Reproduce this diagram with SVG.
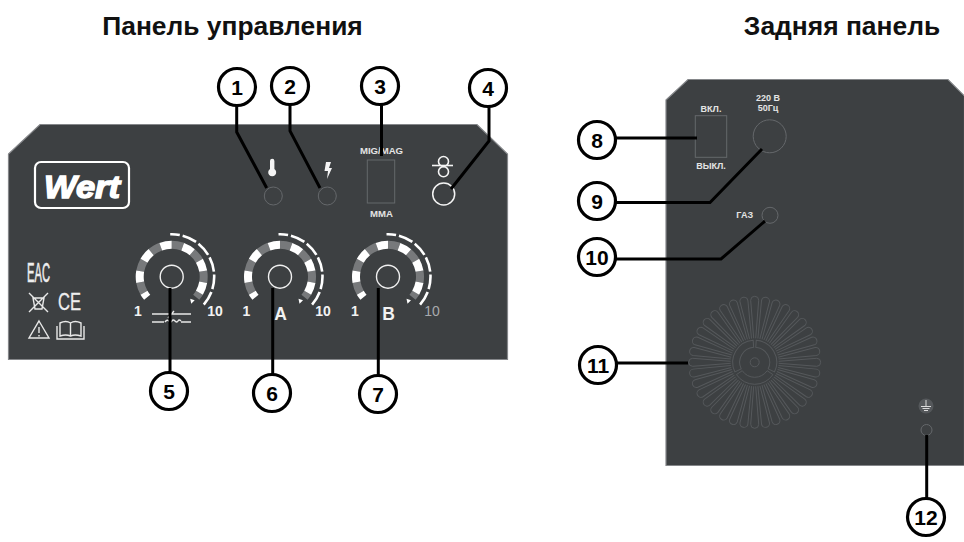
<svg xmlns="http://www.w3.org/2000/svg" xmlns:xlink="http://www.w3.org/1999/xlink" width="964" height="542" viewBox="0 0 964 542">
<style>
text{font-family:"Liberation Sans",Arial,sans-serif}
.title{font-size:26.400px;font-weight:700;fill:#111;text-anchor:middle}
.panel{fill:#3d4042;stroke:#85878a;stroke-width:1.2}
.num circle{fill:#fff;stroke:#000;stroke-width:3.2}
.num text{font-size:21px;font-weight:700;fill:#000;text-anchor:middle}
.conn{fill:none;stroke:#000;stroke-width:3;stroke-linejoin:miter}
.lbl{font-weight:700;fill:#e4e4e4;text-anchor:middle}
.thin{fill:none;stroke:#65686b;stroke-width:1}
.wl{fill:none;stroke:#e8e8e8;stroke-width:1.4}
.wh{fill:none;stroke:#f4f4f4;stroke-width:1.6}
.fan{fill:none;stroke:#55585b;stroke-width:1}
.sc{font-size:14px;font-weight:700;fill:#f2f2f2;text-anchor:middle}
</style>
<defs>
<g id="gauge">
<circle r="32" fill="none" stroke="#77797b" stroke-width="8" pathLength="360" stroke-dasharray="20 20 20 20 20 20 20 20 20 20 20 20 10 400" transform="rotate(150)"/>
<circle r="32" fill="none" stroke="#fff" stroke-width="8" pathLength="360" stroke-dasharray="10 20 20 20 20 20 20 20 20 20 20 20 20 400" transform="rotate(140)"/>
<circle r="42.5" fill="none" stroke="#fff" stroke-width="2.6" pathLength="360" stroke-dasharray="13 4 20 4 20 4 20 4 20 4 20 300" transform="rotate(268)"/>
<circle r="11.5" fill="none" stroke="#f0f0f0" stroke-width="1.4"/>
<path d="M18.5,22 L23,23.5 L19.5,27Z" fill="#fff"/>
</g>
<path id="petal" class="fan" d="M24,-1 L62,-4 A4,4 0 0 1 62,4 L24,1"/>
<path id="band" class="fan" d="M8.39,-12.44 L12.3,-18.24 A22,22 0 0 1 12.3,18.24 L8.39,12.44 A15,15 0 0 0 8.39,-12.44Z"/>
</defs>

<text class="title" x="232.500" y="35">Панель управления</text>
<text class="title" x="842" y="35">Задняя панель</text>

<g id="control-panel">
<path class="panel" d="M8.500,154 L40,124.500 L477,124.500 L507.500,154 L507.500,359.500 L8.500,359.500Z"/>
</g>

<g id="logo">
<rect x="35" y="162" width="94" height="46" rx="6" fill="none" stroke="#fff" stroke-width="2.200"/>
<text x="82" y="198" font-size="31" font-weight="700" font-style="italic" fill="#fff" stroke="#fff" stroke-width="1.400" text-anchor="middle" textLength="76" lengthAdjust="spacingAndGlyphs">Wert</text>
</g>

<g id="marks">
<text x="27" y="282" font-size="27" fill="#eee" stroke="#eee" stroke-width="0.600" textLength="23" lengthAdjust="spacingAndGlyphs">EAC</text>
<path class="wl" d="M29,293 L48,312 M48,293 L29,312 M33,298 H44 L42,309 H35Z"/>
<text x="58" y="310" font-size="23" fill="#eee" stroke="#eee" stroke-width="0.300" textLength="23" lengthAdjust="spacingAndGlyphs">CE</text>
<path class="wl" d="M39,321 L49,338 H29Z M39,327 V333 M39,335 V336.500"/>
<path class="wl" d="M60,323 Q66,320 70.500,323 Q75,320 81,323 V336 Q75,334 70.500,336 Q66,334 60,336Z M70.500,323 V336 M57,326 V339 H84 V326"/>
</g>

<g id="indicator-temp">
<circle class="thin" cx="273.300" cy="196" r="9"/>
<path d="M272,161 a2.200,2.200 0 0 1 4.400,0 V169 a4,4 0 1 1 -4.400,0Z" fill="#f4f4f4" transform="translate(-2,0)"/>
</g>
<g id="indicator-power">
<circle class="thin" cx="327.300" cy="196" r="9"/>
<path d="M326,162 H331 L329,168 H332 L327,179 L328,171 H324.500Z" fill="#f4f4f4"/>
</g>
<g id="mode-switch">
<rect class="thin" x="367.300" y="160" width="27.400" height="43"/>
<text class="lbl" x="381.500" y="154" font-size="9.600">MIG/MAG</text>
<text class="lbl" x="381.500" y="217" font-size="9.600">MMA</text>
</g>
<g id="wire-feed">
<circle class="wh" cx="443.500" cy="161.500" r="5"/>
<circle class="wh" cx="443.500" cy="171.700" r="5"/>
<path class="wh" d="M432,165.500 H453"/>
<circle cx="443.700" cy="194" r="11" fill="none" stroke="#f4f4f4" stroke-width="1.500"/>
</g>

<g id="gauge-5">
<use xlink:href="#gauge" href="#gauge" transform="translate(171.700,276.700)"/>
<text class="sc" x="138" y="316">1</text>
<text class="sc" x="215" y="316">10</text>
<path class="wl" d="M152,314 H191 M168,318 L174,311 M152,322 H164 M165,322 q2,-3 4,-1 t3,0 t3,0 t3,0 t3,0 M181,322 H191"/>
</g>
<g id="gauge-6">
<use xlink:href="#gauge" href="#gauge" transform="translate(280,276.700)"/>
<text class="sc" x="246.500" y="316">1</text>
<text class="sc" x="323" y="316">10</text>
<text class="lbl" x="280.500" y="320" font-size="17.500" style="fill:#f2f2f2">A</text>
</g>
<g id="gauge-7">
<use xlink:href="#gauge" href="#gauge" transform="translate(388,276.700)"/>
<text class="sc" x="355" y="316">1</text>
<text x="432" y="316" font-size="14" fill="#a8aaac" text-anchor="middle">10</text>
<text class="lbl" x="388.500" y="320" font-size="17.500" style="fill:#f2f2f2">B</text>
</g>

<g id="rear-panel">
<path class="panel" d="M666,100 L688,79.500 L948,79.500 L964.500,96 V465.500 H666Z"/>
</g>
<g id="power-switch">
<rect class="thin" x="695.300" y="115.700" width="31.400" height="41.600"/>
<text class="lbl" x="711" y="111.500" font-size="9">ВКЛ.</text>
<text class="lbl" x="711" y="169" font-size="9">ВЫКЛ.</text>
</g>
<g id="power-input">
<circle class="thin" cx="769.700" cy="136.300" r="16.500"/>
<text class="lbl" x="768" y="100.500" font-size="9">220 В</text>
<text class="lbl" x="768" y="110.500" font-size="9">50Гц</text>
</g>
<g id="gas">
<circle class="thin" cx="770" cy="215.300" r="8"/>
<text class="lbl" x="744.700" y="218" font-size="9">ГАЗ</text>
</g>
<g id="fan" transform="translate(754.700,362.300)">
<g id="petals">
<use href="#petal"/><use href="#petal" transform="rotate(10)"/><use href="#petal" transform="rotate(20)"/><use href="#petal" transform="rotate(30)"/><use href="#petal" transform="rotate(40)"/><use href="#petal" transform="rotate(50)"/><use href="#petal" transform="rotate(60)"/><use href="#petal" transform="rotate(70)"/><use href="#petal" transform="rotate(80)"/><use href="#petal" transform="rotate(90)"/><use href="#petal" transform="rotate(100)"/><use href="#petal" transform="rotate(110)"/><use href="#petal" transform="rotate(120)"/><use href="#petal" transform="rotate(130)"/><use href="#petal" transform="rotate(140)"/><use href="#petal" transform="rotate(150)"/><use href="#petal" transform="rotate(160)"/><use href="#petal" transform="rotate(170)"/><use href="#petal" transform="rotate(180)"/><use href="#petal" transform="rotate(190)"/><use href="#petal" transform="rotate(200)"/><use href="#petal" transform="rotate(210)"/><use href="#petal" transform="rotate(220)"/><use href="#petal" transform="rotate(230)"/><use href="#petal" transform="rotate(240)"/><use href="#petal" transform="rotate(250)"/><use href="#petal" transform="rotate(260)"/><use href="#petal" transform="rotate(270)"/><use href="#petal" transform="rotate(280)"/><use href="#petal" transform="rotate(290)"/><use href="#petal" transform="rotate(300)"/><use href="#petal" transform="rotate(310)"/><use href="#petal" transform="rotate(320)"/><use href="#petal" transform="rotate(330)"/><use href="#petal" transform="rotate(340)"/><use href="#petal" transform="rotate(350)"/>
</g>
<use href="#band" transform="rotate(-30)"/><use href="#band" transform="rotate(90)"/><use href="#band" transform="rotate(210)"/>
<circle class="fan" r="4.500"/>
</g>
<g id="ground">
<circle cx="926" cy="406" r="7.500" fill="#55585b"/>
<path d="M926,400 V406 M921,406.500 H931 M922.500,408.500 H929.500 M924,410.500 H928" fill="none" stroke="#dcdcdc" stroke-width="1"/>
<circle class="thin" cx="926.500" cy="430" r="5.500"/>
</g>

<g id="connectors">
<path class="conn" d="M236.700,105 V132 L266.700,188"/>
<path class="conn" d="M290,105 V131 L320,188"/>
<path class="conn" d="M381.500,105 V156"/>
<path class="conn" d="M489,106 V141 L451,189"/>
<path class="conn" d="M170,288 V373"/>
<path class="conn" d="M272.700,288 V375"/>
<path class="conn" d="M378.300,288 V376"/>
<path class="conn" d="M615,138 H697"/>
<path class="conn" d="M615,202.500 H710 L762,149"/>
<path class="conn" d="M615,259 H721 L765,221"/>
<path class="conn" d="M617,363 H688"/>
<path class="conn" d="M926.700,435 V499"/>
</g>

<g id="n1" class="num"><circle cx="237" cy="87" r="18.500"/><text x="237" y="94.500">1</text></g>
<g id="n2" class="num"><circle cx="290" cy="86" r="18.500"/><text x="290" y="93.500">2</text></g>
<g id="n3" class="num"><circle cx="380" cy="86" r="18.500"/><text x="380" y="93.500">3</text></g>
<g id="n4" class="num"><circle cx="488" cy="88" r="18.500"/><text x="488" y="95.500">4</text></g>
<g id="n5" class="num"><circle cx="169" cy="391" r="18.500"/><text x="169" y="398.500">5</text></g>
<g id="n6" class="num"><circle cx="272" cy="393" r="18.500"/><text x="272" y="400.500">6</text></g>
<g id="n7" class="num"><circle cx="378" cy="394" r="18.500"/><text x="378" y="401.500">7</text></g>
<g id="n8" class="num"><circle cx="597" cy="140" r="18.500"/><text x="597" y="147.500">8</text></g>
<g id="n9" class="num"><circle cx="597" cy="201" r="18.500"/><text x="597" y="208.500">9</text></g>
<g id="n10" class="num"><circle cx="597" cy="257" r="18.500"/><text x="597" y="264.500">10</text></g>
<g id="n11" class="num"><circle cx="598" cy="365" r="18.500"/><text x="598" y="372.500">11</text></g>
<g id="n12" class="num"><circle cx="926" cy="517" r="18.500"/><text x="926" y="524.500">12</text></g>
</svg>
